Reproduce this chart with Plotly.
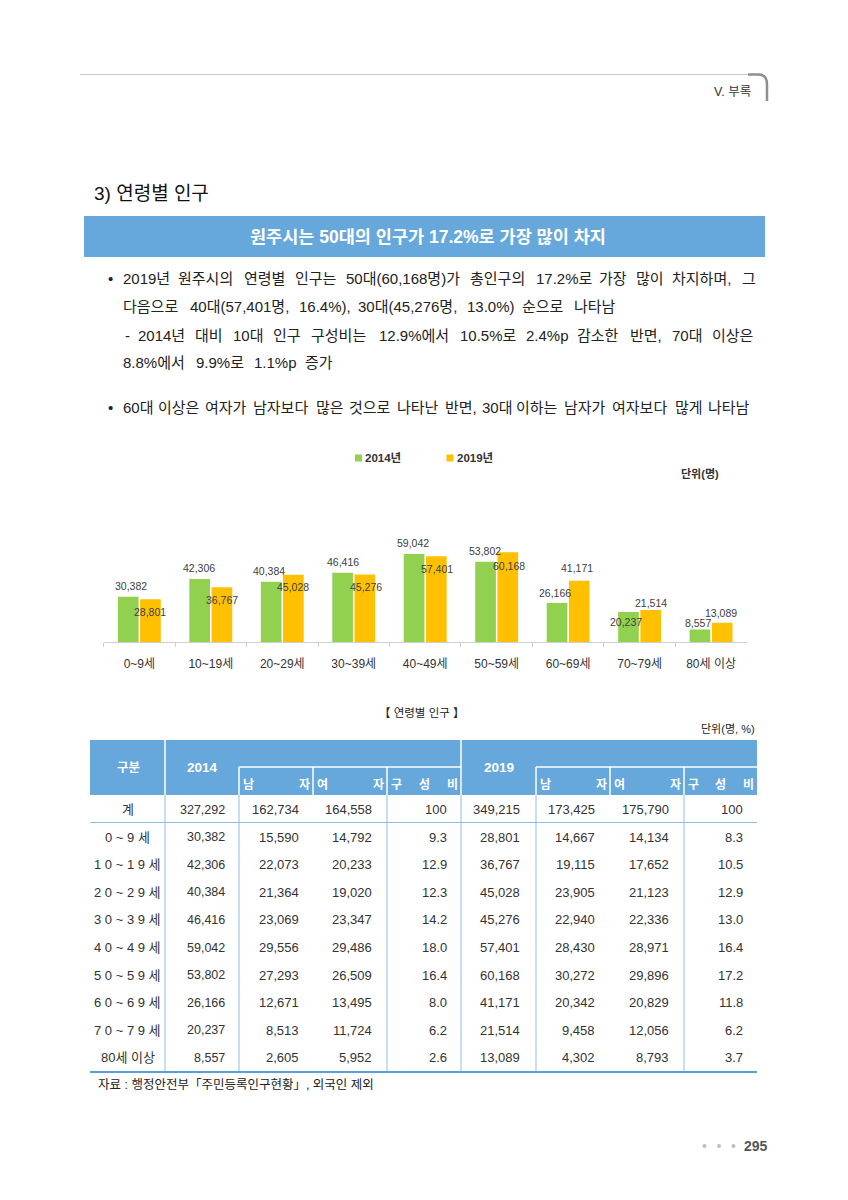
import plotly.graph_objects as go

# The page body has an 8px margin, so the figure is drawn 8px in; size and
# map coordinates accordingly so that page pixels match the reference.
OFF = 8
W, H = 848 - OFF, 1200 - OFF


def X(px):
    return (px - OFF) / W


def Y(py):
    return 1 - (py - OFF) / H


# ---------------- data ----------------
age_groups = ["0~9세", "10~19세", "20~29세", "30~39세", "40~49세",
              "50~59세", "60~69세", "70~79세", "80세 이상"]
table_row_labels = ["0 ~ 9 세", "1 0 ~ 1 9 세", "2 0 ~ 2 9 세", "3 0 ~ 3 9 세",
                    "4 0 ~ 4 9 세", "5 0 ~ 5 9 세", "6 0 ~ 6 9 세", "7 0 ~ 7 9 세",
                    "80세 이상"]
pop_2014 = [30382, 42306, 40384, 46416, 59042, 53802, 26166, 20237, 8557]
male_2014 = [15590, 22073, 21364, 23069, 29556, 27293, 12671, 8513, 2605]
female_2014 = [14792, 20233, 19020, 23347, 29486, 26509, 13495, 11724, 5952]
ratio_2014 = [9.3, 12.9, 12.3, 14.2, 18.0, 16.4, 8.0, 6.2, 2.6]
pop_2019 = [28801, 36767, 45028, 45276, 57401, 60168, 41171, 21514, 13089]
male_2019 = [14667, 19115, 23905, 22940, 28430, 30272, 20342, 9458, 4302]
female_2019 = [14134, 17652, 21123, 22336, 28971, 29896, 20829, 12056, 8793]
ratio_2019 = [8.3, 10.5, 12.9, 13.0, 16.4, 17.2, 11.8, 6.2, 3.7]
total_label = "계"
total_2014 = [327292, 162734, 164558, 100]
total_2019 = [349215, 173425, 175790, 100]
series_names = ["2014년", "2019년"]

# label offsets (style): (dx, dy) in px relative to bar centre / bar top
lbl_off_2014 = [(2.5, -10.8), (-1.2, -11.2), (-2.5, -11), (0, -10.5), (-1, -10.6),
                (-1, -10.7), (-2, -9.8), (-2.3, 9.7), (-2.4, -6.2)]
lbl_off_2019 = [(-0.9, 13.1), (0.2, 12.8), (0, 12.5), (1.4, 12.2), (0.5, 13),
                (1, 13.8), (-2, -12.9), (0, -6.8), (-1, -9.4)]

# ---------------- styles ----------------
FONT = "Liberation Sans, Noto Sans CJK KR"
KFONT = "Noto Sans CJK KR"
GREEN = "#92D050"
YELLOW = "#FFC000"
BLUE = "#66A8DB"
LINE_BLUE = "#8CBDE6"
TXT = "#222222"

annotations = []
shapes = []


def text(t, x, y, size=13, color=TXT, xanchor="center", yanchor="middle",
         bold=False, family=FONT):
    annotations.append(dict(
        text=("<b>%s</b>" % t) if bold else t,
        x=X(x), y=Y(y), xref="paper", yref="paper",
        xanchor=xanchor, yanchor=yanchor, showarrow=False,
        font=dict(size=size, color=color, family=family)))


def hline(x0, x1, y, color, width=1):
    shapes.append(dict(type="line", xref="paper", yref="paper",
                       x0=X(x0), x1=X(x1), y0=Y(y), y1=Y(y),
                       line=dict(color=color, width=width)))


def vline(x, y0, y1, color, width=1):
    shapes.append(dict(type="line", xref="paper", yref="paper",
                       x0=X(x), x1=X(x), y0=Y(y0), y1=Y(y1),
                       line=dict(color=color, width=width)))


def rect(x0, y0, x1, y1, fill):
    shapes.append(dict(type="rect", xref="paper", yref="paper",
                       x0=X(x0), x1=X(x1), y0=Y(y1), y1=Y(y0),
                       fillcolor=fill, line=dict(width=0), layer="below"))


LAT_W = {',': 0.278, '.': 0.278, '(': 0.333, ')': 0.333, '%': 0.889,
         '-': 0.333, 'p': 0.556, '~': 0.584, ':': 0.278, ' ': 0.278}


def text_width(s, size):
    w = 0.0
    for ch in s:
        if ch.isdigit():
            w += 0.556
        elif ch in LAT_W:
            w += LAT_W[ch]
        elif ord(ch) > 0x2E80:
            w += 1.0
        else:
            w += 0.6
    return w * size


def justified(line, x0, x1, y, size):
    words = line.split(" ")
    widths = [text_width(w, size) for w in words]
    gap = (x1 - x0 - sum(widths)) / max(1, len(words) - 1)
    x = x0
    for w, wd in zip(words, widths):
        text(w, x, y, size=size, xanchor="left")
        x += wd + gap


# ---------------- page header ----------------
hline(80, 756, 74.5, "#c8c8c8", 1)
shapes.append(dict(type="path", xref="paper", yref="paper",
                   path="M %f,%f L %f,%f Q %f,%f %f,%f L %f,%f" % (
                       X(748), Y(74.5), X(758), Y(74.5), X(767), Y(74.5),
                       X(767), Y(84), X(767), Y(101)),
                   line=dict(color="#8f8f8f", width=2.5)))
text("V. 부록", 753, 92, size=12.5, color="#333", xanchor="right")

text("3) 연령별 인구", 92, 193, size=19, color="#111", xanchor="left")

rect(84, 216, 765, 257, BLUE)
text("원주시는 50대의 인구가 17.2%로 가장 많이 차지", 428, 237, size=17.5,
     color="white", bold=True)

BODY = 15
text("•", 110, 278, size=BODY)
justified("2019년 원주시의 연령별 인구는 50대(60,168명)가 총인구의 17.2%로 가장 많이 차지하며, 그",
          121, 755, 278, BODY)
justified("다음으로 40대(57,401명, 16.4%), 30대(45,276명, 13.0%) 순으로 나타남",
          121, 617, 306.5, BODY)
justified("- 2014년 대비 10대 인구 구성비는 12.9%에서 10.5%로 2.4%p 감소한 반면, 70대 이상은",
          123, 755, 335, BODY)
justified("8.8%에서 9.9%로 1.1%p 증가", 121, 333, 363, BODY)
text("•", 110, 408, size=BODY)
justified("60대 이상은 여자가 남자보다 많은 것으로 나타난 반면, 30대 이하는 남자가 여자보다 많게 나타남",
          121, 751, 408, BODY)

# ---------------- chart ----------------
fig = go.Figure()
fig.add_trace(go.Bar(x=age_groups, y=pop_2014, name=series_names[0],
                     marker=dict(color=GREEN, line=dict(width=0))))
fig.add_trace(go.Bar(x=age_groups, y=pop_2019, name=series_names[1],
                     marker=dict(color=YELLOW, line=dict(width=0))))

HALF = 11.1
for i, cat in enumerate(age_groups):
    for vals, offs, sgn in ((pop_2014, lbl_off_2014, -1), (pop_2019, lbl_off_2019, 1)):
        dx, dy = offs[i]
        annotations.append(dict(
            text=f"{vals[i]:,}", x=cat, y=vals[i], xref="x", yref="y",
            xshift=sgn * HALF + dx, yshift=-dy, showarrow=False,
            xanchor="center", yanchor="middle",
            font=dict(size=10.5, color="#404040", family=FONT)))

# legend (manual)
for (sx, tx, col, name) in ((355, 363, GREEN, series_names[0]),
                            (446.5, 454.5, YELLOW, series_names[1])):
    shapes.append(dict(type="rect", xref="paper", yref="paper",
                       x0=X(sx), x1=X(sx + 7), y0=Y(461.5), y1=Y(454.5),
                       fillcolor=col, line=dict(width=0)))
    text(name, tx, 458, size=11.5, color="#333", xanchor="left", bold=True)
text("단위(명)", 700, 474, size=11, color="#333", bold=True)

# ---------------- table ----------------
text("【 연령별 인구 】", 422, 713, size=11.5, color="#222")
text("단위(명, %)", 757, 729, size=11, color="#222", xanchor="right")

TL, TR = 90, 757
HT, HM, HB = 740, 767, 795
rect(TL, HT, TR, HB, BLUE)
vline(165, HT, HB, "white", 1.5)
vline(461, HT, HB, "white", 1.5)
for g0, g1 in ((239, 461), (536, 757)):
    hline(g0, g1, HM, "white", 1.5)
for xv in (239, 313, 387, 536, 610, 684):
    vline(xv, HM, HB, "white", 1.5)

text("구분", 128, 768, size=12.5, color="white", bold=True)
text("2014", 202, 767, size=13.5, color="white", bold=True)
text("2019", 498.5, 767, size=13.5, color="white", bold=True)
sub_cells = [(239, 313), (313, 387), (387, 461), (536, 610), (610, 684), (684, 757)]
for k, (c0, c1) in enumerate(sub_cells):
    if k % 3 == 2:
        chars = ["구", "성", "비"]
    elif k % 3 == 0:
        chars = ["남", "자"]
    else:
        chars = ["여", "자"]
    n = len(chars)
    a, b = c0 + 9, c1 - 9
    for j, ch in enumerate(chars):
        cx = a + (b - a) * j / (n - 1)
        text(ch, cx, 783, size=12, color="white", bold=True, family=KFONT)

# body rows
ROW0 = 809.5
ROWH = 27.6
right_edges = [226.7, 300.5, 374, 449, 522, 596.5, 670.7, 744.5]


def fmt_ratio(v):
    return "100" if v == 100 else f"{v:.1f}"


rows = [(total_label, total_2014 + total_2019)]
for i in range(len(age_groups)):
    rows.append((table_row_labels[i],
                 [pop_2014[i], male_2014[i], female_2014[i], ratio_2014[i],
                  pop_2019[i], male_2019[i], female_2019[i], ratio_2019[i]]))

for r, (lab, vals) in enumerate(rows):
    yy = ROW0 + r * ROWH
    text(lab, 127.5, yy, size=13, color="#333")
    for c, v in enumerate(vals):
        s = fmt_ratio(v) if c in (3, 7) else f"{v:,}"
        text(s, right_edges[c], yy, size=12.5 if c == 0 else 13, color="#333",
             xanchor="right")

BODY_TOP, BODY_BOT = HB, 1072
for xv in (165, 239, 387, 461, 536, 684):
    vline(xv, BODY_TOP, BODY_BOT, LINE_BLUE, 1)
hline(TL, TR, 822.5, LINE_BLUE, 1)
hline(TL, TR, BODY_BOT, "#5B9FD6", 2.2)

text("자료 : 행정안전부「주민등록인구현황」, 외국인 제외", 96, 1084, size=12.5,
     color="#222", xanchor="left")

# ---------------- page number ----------------
for dxp in (704.5, 719, 733.5):
    shapes.append(dict(type="circle", xref="paper", yref="paper",
                       x0=X(dxp - 2), x1=X(dxp + 2), y0=Y(1148), y1=Y(1144),
                       fillcolor="#bdbdbd", line=dict(width=0)))
text("295", 756, 1146, size=14, color="#555", bold=True)

fig.update_layout(
    width=W, height=H, autosize=False,
    margin=dict(l=0, r=0, t=0, b=0),
    paper_bgcolor="white", plot_bgcolor="rgba(0,0,0,0)",
    showlegend=False, barmode="group", bargap=0.378, bargroupgap=0.07,
    xaxis=dict(domain=[X(103.6), X(746.8)], type="category",
               showline=True, linecolor="#d0d0d0", linewidth=1,
               ticks="outside", tickson="boundaries", ticklen=4,
               tickcolor="#d0d0d0", showgrid=False, zeroline=False,
               tickfont=dict(size=12, color="#333", family=FONT),
               ticklabelstandoff=10, fixedrange=True),
    yaxis=dict(domain=[Y(642.3), Y(522.5)], range=[0, 80000],
               visible=False, showgrid=False, zeroline=False, fixedrange=True),
    annotations=annotations, shapes=shapes,
    font=dict(family=FONT),
)

fig.write_html("out.html")
